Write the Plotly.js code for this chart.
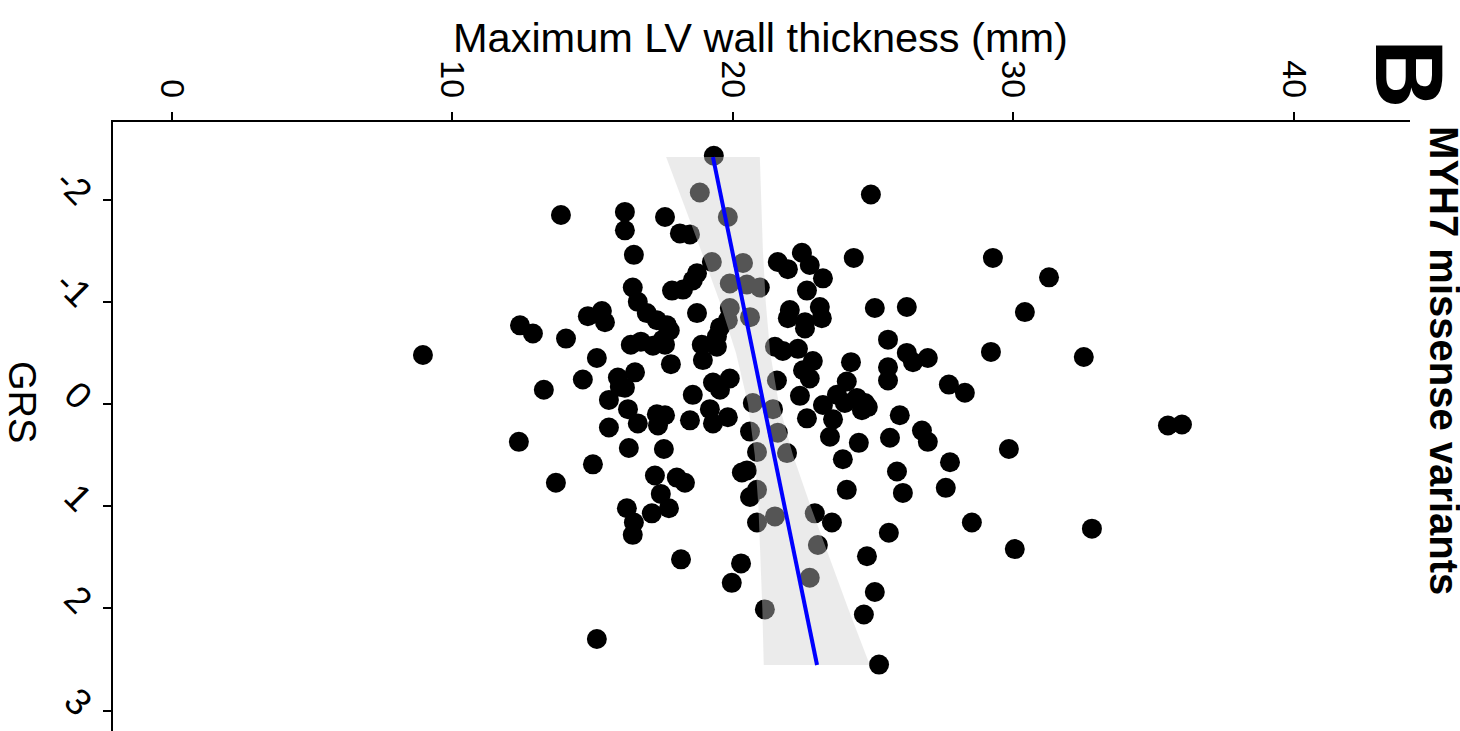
<!DOCTYPE html>
<html>
<head>
<meta charset="utf-8">
<script src="https://cdn.plot.ly/plotly-3.0.1.min.js"></script>
<style>html,body{margin:0;padding:0;background:#fff;}#chart{width:1460px;height:731px;}</style>
</head>
<body>
<div id="chart"></div>
<script>
// Maximum LV wall thickness (mm) for each subject
const lvwt = [
19.32,18.82,24.92,13.87,16.15,17.58,19.82,16.15,18.11,18.47,
16.47,22.46,24.31,29.27,19.25,20.36,21.60,22.74,21.96,18.72,
23.21,31.27,18.57,19.89,20.50,20.96,16.43,17.83,18.22,22.64,
16.61,23.10,25.06,26.20,19.89,15.33,30.41,22.03,18.72,16.93,
14.83,20.61,21.96,23.17,17.29,19.82,15.44,22.57,12.41,17.65,
19.54,22.57,17.75,12.87,14.05,25.53,17.50,19.43,16.72,16.36,
17.15,17.58,18.89,19.43,21.50,21.78,22.32,29.20,26.20,8.95,
32.51,26.95,15.15,18.93,22.85,24.21,26.42,17.79,25.53,22.50,
16.51,15.90,14.65,19.89,22.74,21.57,25.53,24.06,19.29,27.70,
15.97,16.15,13.26,19.54,28.27,18.57,23.71,22.39,24.42,15.58,
24.71,20.71,23.21,23.99,16.26,19.18,21.43,24.60,24.81,17.29,
17.58,25.95,19.82,18.47,22.64,23.57,35.51,36.01,16.61,17.33,
19.29,26.74,15.58,20.61,21.60,23.46,25.60,26.95,12.37,24.49,
16.29,17.54,29.84,20.86,21.93,23.92,27.74,15.01,20.32,20.50,
25.85,17.22,18.00,18.29,13.69,27.59,24.06,20.86,26.06,17.43,
20.61,16.22,17.72,17.11,22.92,21.50,20.86,23.53,16.47,28.52,
32.80,25.56,16.43,23.03,30.05,24.78,18.15,20.29,22.74,19.96,
25.06,21.14,24.67,15.15,25.21
];
// Genetic risk score for each subject
const grs = [
-2.43,-2.07,-2.05,-1.85,-1.88,-1.83,-1.83,-1.70,-1.67,-1.66,
-1.46,-1.48,-1.43,-1.43,-1.39,-1.38,-1.39,-1.36,-1.32,-1.28,
-1.23,-1.24,-1.21,-1.18,-1.17,-1.14,-1.14,-1.11,-1.12,-1.11,
-1.00,-0.95,-0.94,-0.95,-0.94,-0.91,-0.90,-0.92,-0.89,-0.89,
-0.86,-0.85,-0.84,-0.84,-0.82,-0.82,-0.80,-0.80,-0.77,-0.77,
-0.75,-0.74,-0.72,-0.69,-0.64,-0.63,-0.63,-0.66,-0.61,-0.58,
-0.57,-0.58,-0.58,-0.56,-0.56,-0.52,-0.54,-0.51,-0.50,-0.48,
-0.46,-0.45,-0.45,-0.43,-0.42,-0.41,-0.41,-0.39,-0.36,-0.33,
-0.31,-0.26,-0.24,-0.25,-0.25,-0.23,-0.23,-0.22,-0.21,-0.19,
-0.17,-0.16,-0.14,-0.14,-0.11,-0.09,-0.09,-0.08,-0.06,-0.04,
-0.01,-0.01,0.01,-0.01,0.05,0.05,0.05,0.06,0.03,0.10,
0.11,0.11,0.13,0.16,0.14,0.15,0.21,0.20,0.19,0.21,
0.19,0.26,0.23,0.27,0.28,0.32,0.33,0.37,0.37,0.38,
0.43,0.44,0.44,0.47,0.48,0.54,0.57,0.59,0.67,0.65,
0.66,0.70,0.72,0.77,0.77,0.82,0.84,0.84,0.87,0.88,
0.91,1.02,1.02,1.07,1.07,1.10,1.16,1.16,1.16,1.16,
1.22,1.26,1.28,1.38,1.42,1.49,1.52,1.56,1.70,1.75,
1.84,2.01,2.06,2.30,2.55
];
// Fitted regression line (endpoints)
const fitGRS = [-2.417, 2.554];
const fitLVWT = [19.29, 23.00];
// Confidence band edges
const bandGRS = [-2.417,-2,-1.5,-1,-0.5,0,0.5,1,1.5,2,2.554];
const bandLower = [17.62,18.20,18.87,19.53,20.11,20.54,20.78,20.91,20.99,21.05,21.10];
const bandUpper = [20.96,21.00,21.07,21.17,21.33,21.64,22.14,22.77,23.43,24.11,24.88];
// Axis ticks
const xTicks = [0,10,20,30,40];
const yTicks = [-2,-1,0,1,2,3];

const polyX = bandLower.concat(bandUpper.slice().reverse());
const polyY = bandGRS.concat(bandGRS.slice().reverse());

const FONT = "Liberation Sans, Arial, Helvetica, sans-serif";

const traces = [
  {type:'scatter', mode:'markers', x:lvwt, y:grs,
   marker:{color:'#000000', size:20, line:{width:0}}, hoverinfo:'x+y'},
  {type:'scatter', mode:'lines', x:polyX, y:polyY, fill:'toself',
   fillcolor:'rgba(206,206,206,0.41)', line:{width:0, color:'rgba(0,0,0,0)'}, hoverinfo:'skip'},
  {type:'scatter', mode:'lines', x:fitLVWT, y:fitGRS,
   line:{color:'#0000ff', width:4}, hoverinfo:'skip'}
];

const layout = {
  width:1460, height:731,
  margin:{l:113, r:50, t:122, b:0, pad:0},
  paper_bgcolor:'#ffffff', plot_bgcolor:'#ffffff',
  showlegend:false,
  font:{family:FONT, color:'#000000'},
  xaxis:{
    side:'top', range:[-2.10, 44.14], tickmode:'array', tickvals:xTicks,
    ticktext:xTicks.map(String),
    showline:true, linecolor:'#000', linewidth:2, mirror:false,
    ticks:'outside', ticklen:8, tickwidth:2, tickcolor:'#000',
    tickangle:90, tickfont:{size:34, family:FONT, color:'#000'},
    ticklabelstandoff:2,
    showgrid:false, zeroline:false, automargin:false
  },
  yaxis:{
    range:[3.20, -2.76], tickmode:'array', tickvals:yTicks,
    ticktext:yTicks.map(String),
    showline:true, linecolor:'#000', linewidth:2,
    ticks:'outside', ticklen:8, tickwidth:2, tickcolor:'#000',
    tickangle:45, tickfont:{size:37, family:FONT, color:'#000'},
    ticklabelstandoff:6,
    showgrid:false, zeroline:false, automargin:false
  },
  annotations:[
    {text:'Maximum LV wall thickness (mm)', xref:'paper', yref:'paper',
     x:0.499, y:1.138, xanchor:'center', yanchor:'middle', showarrow:false,
     font:{size:41.5, family:FONT, color:'#000'}},
    {text:'GRS', xref:'paper', yref:'paper', x:-0.070, y:0.540,
     xanchor:'center', yanchor:'middle', showarrow:false, textangle:90,
     font:{size:38, family:FONT, color:'#000'}},
    {text:'<b>MYH7 missense variants</b>', xref:'paper', yref:'paper', x:(1444-113)/1297, y:0.609,
     xanchor:'center', yanchor:'middle', showarrow:false, textangle:90,
     font:{size:40, family:FONT, color:'#000'}},
    {text:'<b>B</b>', xref:'paper', yref:'paper', x:(1410-113)/1297, y:1+(122-73)/609,
     xanchor:'center', yanchor:'middle', showarrow:false, textangle:90,
     font:{size:96, family:FONT, color:'#000'}}
  ]
};

Plotly.newPlot('chart', traces, layout, {displayModeBar:false, staticPlot:true});
</script>
</body>
</html>
